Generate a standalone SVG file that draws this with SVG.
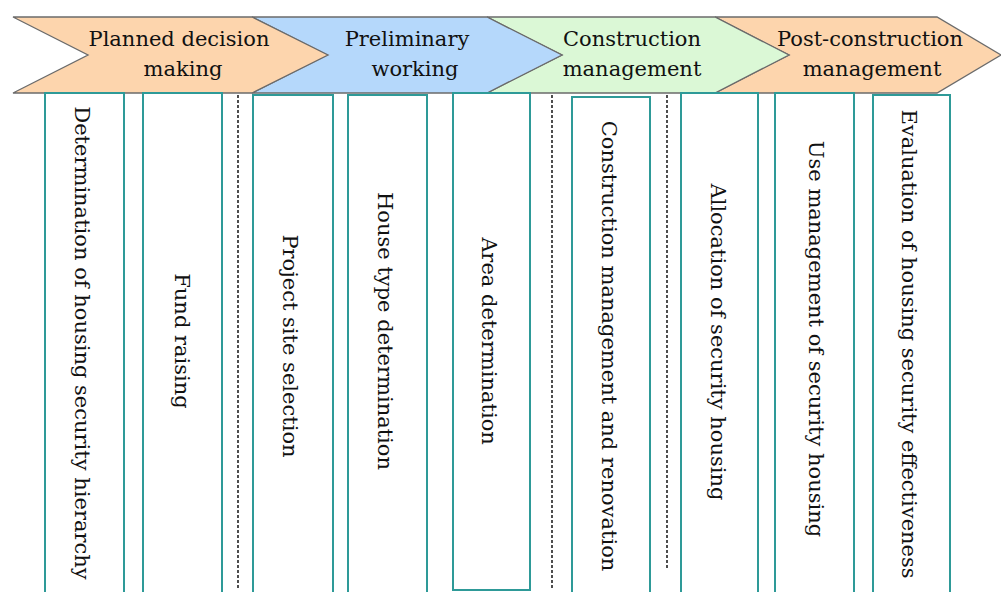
<svg xmlns="http://www.w3.org/2000/svg" width="1001" height="592" viewBox="0 0 1001 592">
<style>
.chev{stroke:#6b6b6b;stroke-width:1.3;stroke-linejoin:miter}
.or{fill:#fdd5ad}
.bl{fill:#b5d8fb}
.gr{fill:#dbf8d6}
.box{fill:#ffffff;stroke:#2e9a98;stroke-width:2}
.div{stroke:#222;stroke-width:1.6;stroke-dasharray:3 2;fill:none}
text{font-family:"DejaVu Serif","Liberation Serif",serif;font-size:21px;fill:#111}
.h{text-anchor:middle}
.v{text-anchor:middle}
</style>
<rect width="1001" height="592" fill="#ffffff"/>
<g id="stage-4">
<polygon class="chev or" points="715,17 937,17 1001,55 937,93 715,93 789,55"/>
<text class="h" x="870" y="46">Post-construction</text>
<text class="h" x="872" y="76">management</text>
</g>
<g id="stage-3">
<polygon class="chev gr" points="487,17 715,17 789,55 715,93 487,93 562,55"/>
<text class="h" x="632" y="46">Construction</text>
<text class="h" x="632" y="76">management</text>
</g>
<g id="stage-2">
<polygon class="chev bl" points="252,17 487,17 562,55 487,93 252,93 327,55"/>
<text class="h" x="407" y="46">Preliminary</text>
<text class="h" x="415" y="76">working</text>
</g>
<g id="stage-1">
<polygon class="chev or" points="13,17 252,17 328,55 252,93 13,93 88,55"/>
<text class="h" x="179" y="46">Planned decision</text>
<text class="h" x="183" y="76">making</text>
</g>
<g id="dividers">
<line class="div" x1="238" y1="95" x2="238" y2="590"/>
<line class="div" x1="552" y1="95" x2="552" y2="588"/>
<line class="div" x1="667" y1="95" x2="667" y2="570"/>
</g>
<g id="task-1">
<rect class="box" x="45" y="93" width="79" height="520"/>
<text class="v" transform="translate(75,343) rotate(90)">Determination of housing security hierarchy</text>
</g>
<g id="task-2">
<rect class="box" x="143" y="93" width="79" height="520"/>
<text class="v" transform="translate(175,341) rotate(90)">Fund raising</text>
</g>
<g id="task-3">
<rect class="box" x="253" y="95" width="80" height="520"/>
<text class="v" transform="translate(283,346) rotate(90)">Project site selection</text>
</g>
<g id="task-4">
<rect class="box" x="348" y="95" width="79" height="520"/>
<text class="v" transform="translate(378,331) rotate(90)">House type determination</text>
</g>
<g id="task-5">
<rect class="box" x="453" y="93" width="77" height="497"/>
<text class="v" transform="translate(482,341) rotate(90)">Area determination</text>
</g>
<g id="task-6">
<rect class="box" x="572" y="97" width="78" height="520"/>
<text class="v" transform="translate(602,346) rotate(90)">Construction management and renovation</text>
</g>
<g id="task-7">
<rect class="box" x="681" y="93" width="77" height="520"/>
<text class="v" transform="translate(711,342) rotate(90)">Allocation of security housing</text>
</g>
<g id="task-8">
<rect class="box" x="775" y="93" width="79" height="520"/>
<text class="v" transform="translate(809,339) rotate(90)">Use management of security housing</text>
</g>
<g id="task-9">
<rect class="box" x="873" y="95" width="77" height="520"/>
<text class="v" transform="translate(902,344) rotate(90)">Evaluation of housing security effectiveness</text>
</g>
</svg>
